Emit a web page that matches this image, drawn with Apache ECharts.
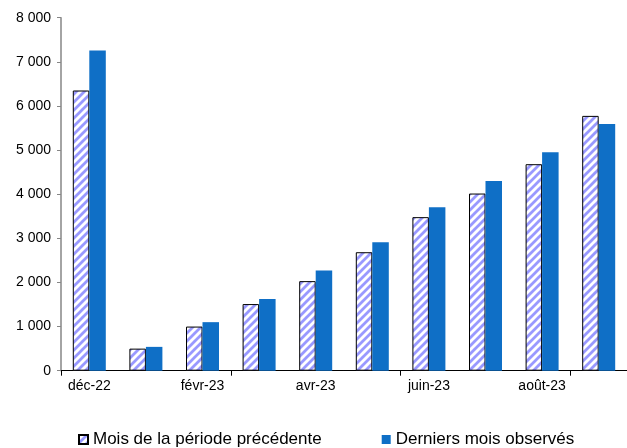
<!DOCTYPE html>
<html>
<head>
<meta charset="utf-8">
<script src="https://cdn.jsdelivr.net/npm/echarts@6/dist/echarts.min.js"></script>
<style>
    html, body { margin: 0; padding: 0; background: #ffffff; }
    #chart { width: 627px; height: 448px; }
</style>
</head>
<body>
<div id="chart"></div>
<script>
var months = ['déc-22', 'janv-23', 'févr-23', 'mars-23', 'avr-23', 'mai-23', 'juin-23', 'juil-23', 'août-23', 'sept-23'];
var previousPeriod = [6350, 500, 1000, 1510, 2030, 2685, 3480, 4015, 4680, 5775];
var lastObserved = [7255, 540, 1100, 1625, 2270, 2910, 3705, 4300, 4950, 5590];
var seriesNames = ['Mois de la période précédente', 'Derniers mois observés'];

// hatch pattern for the "previous period" bars
function makeHatch() {
    var c = document.createElement('canvas');
    c.width = 8;
    c.height = 8;
    var ctx = c.getContext('2d');
    ctx.fillStyle = '#ffffff';
    ctx.fillRect(0, 0, 8, 8);
    ctx.strokeStyle = '#9999ff';
    ctx.lineWidth = 2.8;
    ctx.beginPath();
    ctx.moveTo(-2, 10); ctx.lineTo(10, -2);
    ctx.moveTo(-6, 6); ctx.lineTo(6, -6);
    ctx.moveTo(2, 14); ctx.lineTo(14, 2);
    ctx.stroke();
    return c;
}

var myChart = echarts.init(document.getElementById('chart'), null, { renderer: 'canvas' });
var font = 'Liberation Sans, Arial, sans-serif';

var option = {
    animation: false,
    backgroundColor: '#ffffff',
    textStyle: { fontFamily: font },
    grid: { left: 61, right: -7, top: 17.7, bottom: 77.3, containLabel: false },
    legend: {
        left: 78,
        top: 431,
        padding: 0,
        itemWidth: 9,
        itemHeight: 9,
        itemGap: 60,
        icon: 'rect',
        textStyle: { fontFamily: font, fontSize: 17, color: '#000000' },
        data: seriesNames
    },
    xAxis: {
        type: 'category',
        data: months,
        axisLine: { lineStyle: { color: '#000000', width: 1 } },
        axisTick: { show: true, interval: 2, length: 5, lineStyle: { color: '#000000' } },
        axisLabel: { interval: 1, color: '#000000', fontSize: 14, fontFamily: font, margin: 8 },
        splitLine: { show: false }
    },
    yAxis: {
        type: 'value',
        min: 0,
        max: 8000,
        interval: 1000,
        axisLine: { show: true, lineStyle: { color: '#868686', width: 1.5 } },
        axisTick: { show: true, length: 4, lineStyle: { color: '#868686' } },
        axisLabel: {
            color: '#000000',
            fontSize: 14,
            fontFamily: font,
            margin: 10,
            formatter: function (v) {
                return String(v).replace(/\B(?=(\d{3})+(?!\d))/g, ' ');
            }
        },
        splitLine: { show: false }
    },
    series: [{
        name: seriesNames[0],
        type: 'bar',
        data: previousPeriod,
        barWidth: 16.5,
        barGap: '0%',
        itemStyle: {
            color: { image: makeHatch(), repeat: 'repeat' },
            borderColor: '#000000',
            borderWidth: 1
        }
    }, {
        name: seriesNames[1],
        type: 'bar',
        data: lastObserved,
        barWidth: 16.5,
        itemStyle: { color: '#0f6fc6' }
    }]
};
myChart.setOption(option);
</script>
</body>
</html>
